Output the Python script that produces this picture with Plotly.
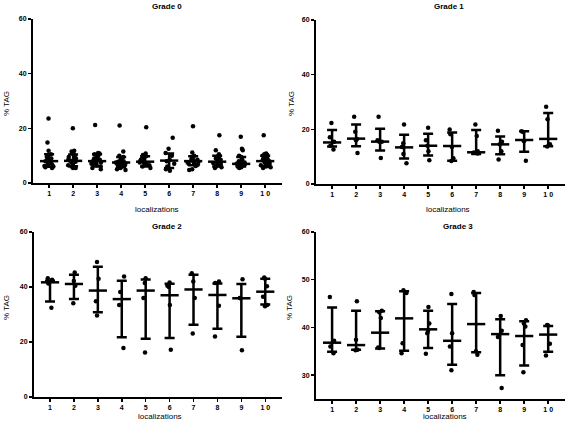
import plotly.graph_objects as go

W, H = 566, 422

categories = [1, 2, 3, 4, 5, 6, 7, 8, 9, 10]
tick_labels = ["1", "2", "3", "4", "5", "6", "7", "8", "9", "1 0"]
titles = ["Grade 0", "Grade 1", "Grade 2", "Grade 3"]

# ---- Grade 0 ----
g0_points = [
    [23.6, 14.8, 11.8, 10.5, 10, 9.5, 9, 8.6, 8.2, 8, 7.8, 7.5, 7, 6.8, 6.5, 6.2, 6, 5.8, 5.5],
    [20, 11.8, 11.5, 11, 10.5, 10, 9.5, 9, 8.5, 8.2, 8, 7.8, 7.5, 7, 6.5, 6, 5.8, 5.5, 5.5],
    [21.2, 11, 10.8, 10.5, 10, 9.5, 9, 8.5, 8, 7.8, 7.5, 7.2, 7, 6.8, 6.5, 6, 5.5, 5],
    [21, 11.5, 10, 9.5, 9, 8.5, 8, 7.8, 7.5, 7.2, 7, 6.8, 6.5, 6.2, 6, 5.5, 5, 4.8],
    [20.4, 10.8, 10.2, 9.8, 9.5, 9, 8.5, 8.2, 8, 7.8, 7.5, 7, 6.8, 6.5, 6, 5.5],
    [16.6, 12.5, 11, 10, 8.5, 8, 7, 6, 5, 4.5],
    [20.8, 11.2, 10, 9.5, 9, 8.8, 8.5, 8.2, 8, 7.8, 7.5, 7.2, 7, 6.8, 6.5, 6.2, 5, 4.8],
    [17.5, 12, 10.5, 9.8, 9.5, 9, 8.5, 8.2, 8, 7.8, 7.5, 7.2, 7, 6.8, 6.5, 6, 5.8, 5.5],
    [16.9, 12.5, 12, 10, 9.5, 8.5, 8, 7.5, 7.2, 7, 6.8, 6.5, 6.2, 6, 5.8, 5.5],
    [17.5, 10.8, 10.5, 10.2, 10, 9.5, 9, 8.5, 8.2, 8, 7.8, 7.5, 7.2, 7, 6.8, 6.5, 6.2, 6, 5.8, 5.5],
]
g0_median = [8.0, 8.1, 8.0, 7.5, 7.8, 8.2, 8.0, 7.8, 7.0, 8.0]
g0_upper = [10.5, 10.4, 10.5, 9.5, 9.8, 10.8, 9.8, 10.0, 9.5, 10.0]
g0_lower = [5.9, 6.1, 6.0, 5.8, 6.0, 5.5, 6.5, 6.0, 6.0, 6.2]

# ---- Grade 1 ----
g1_points = [
    [22.3, 17.1, 15.5, 14.0, 12.6],
    [24.6, 19.1, 16.5, 16.0, 11.3],
    [24.6, 16.0, 15.5, 15.5, 9.5],
    [21.8, 14.9, 13.5, 11.0, 7.6],
    [20.6, 16.0, 14.0, 12.0, 8.7],
    [19.9, 18.2, 13.5, 9.4, 8.4],
    [21.8, 17.6, 12.0, 11.5, 11.2],
    [19.5, 15.5, 14.5, 12.0, 9.0],
    [19.3, 19.0, 15.6, 8.5],
    [28.3, 23.7, 14.5, 13.7],
]
g1_median = [15.2, 16.6, 15.5, 13.4, 14.0, 13.9, 11.6, 14.5, 16.1, 16.5]
g1_upper = [19.8, 21.8, 20.2, 18.0, 18.4, 18.8, 19.8, 17.4, 19.3, 26.0]
g1_lower = [13.7, 13.8, 12.3, 9.3, 10.4, 8.5, 11.0, 10.9, 11.8, 13.8]

# ---- Grade 2 ----
g2_points = [
    [43.2, 42.6, 41.3, 32.5],
    [45.3, 42.2, 40.5, 34.1],
    [49.1, 43.0, 34.8, 29.6],
    [43.8, 38.2, 33.5, 17.8],
    [43.2, 41.5, 36.0, 16.2],
    [41.6, 40.5, 40.0, 33.5, 17.2],
    [45.0, 42.0, 36.0, 23.1],
    [42.0, 41.5, 33.2, 22.0],
    [42.8, 36.0, 35.9, 17.0],
    [43.5, 43.0, 40.3, 36.5, 33.5, 33.0],
]
g2_median = [41.7, 41.1, 38.7, 35.6, 38.7, 37.0, 39.1, 37.1, 35.9, 38.3]
g2_upper = [42.3, 44.5, 47.4, 42.3, 42.7, 41.2, 44.5, 41.3, 41.1, 43.0]
g2_lower = [34.7, 35.6, 30.8, 21.7, 21.2, 21.5, 26.3, 24.8, 21.9, 33.6]

# ---- Grade 3 ----
g3_points = [
    [46.4, 37.2, 36.0, 34.6],
    [45.5, 37.4, 35.3, 35.2],
    [43.5, 43.2, 42.0, 35.7, 35.8],
    [47.8, 47.2, 36.7, 34.6],
    [44.3, 40.8, 39.3, 38.8, 34.5],
    [47.0, 38.8, 36.0, 31.0],
    [47.4, 46.8, 35.0, 34.3],
    [42.4, 39.3, 38.0, 27.3],
    [41.5, 40.8, 40.2, 36.3, 30.6],
    [40.5, 40.4, 36.6, 34.1],
]
g3_median = [36.8, 36.3, 38.9, 41.9, 39.6, 37.2, 40.7, 38.6, 38.2, 38.5]
g3_upper = [44.2, 43.5, 43.4, 47.6, 43.5, 44.9, 47.2, 41.7, 41.3, 40.3]
g3_lower = [34.9, 35.3, 35.6, 35.1, 35.7, 32.2, 34.8, 30.0, 32.0, 34.9]

y_ranges = [[0, 60], [0, 60], [0, 60], [25, 60]]
y_ticks = [[0, 20, 40, 60], [0, 20, 40, 60], [0, 20, 40, 60], [30, 40, 50, 60]]

panels = [
    (g0_points, g0_median, g0_upper, g0_lower),
    (g1_points, g1_median, g1_upper, g1_lower),
    (g2_points, g2_median, g2_upper, g2_lower),
    (g3_points, g3_median, g3_upper, g3_lower),
]
jitters = [1.0, 0.45, 0.45, 0.45]

FONT = "Liberation Sans, Arial, sans-serif"

# pixel geometry of panels (left, right, top, bottom)
geom = [
    (33, 282, 19, 183),
    (316, 565, 20, 184),
    (34, 282, 232, 397),
    (316, 565, 232, 399),
]

fig = go.Figure()
layout = dict(
    width=W, height=H,
    margin=dict(l=0, r=0, t=0, b=0, autoexpand=False),
    paper_bgcolor="white", plot_bgcolor="white",
    showlegend=False,
    boxmode="overlay",
    font=dict(family=FONT, color="black", size=7),
)
annotations = []

for i, (pts, med, up, lo) in enumerate(panels):
    n = "" if i == 0 else str(i + 1)
    xa, ya = "x" + n, "y" + n
    xs, ys = [], []
    for c, vals in zip(categories, pts):
        xs += [c] * len(vals)
        ys += vals
    fig.add_trace(go.Box(
        x=xs, y=ys, xaxis=xa, yaxis=ya,
        boxpoints="all", jitter=jitters[i], pointpos=0,
        fillcolor="rgba(0,0,0,0)", line=dict(width=0, color="rgba(0,0,0,0)"),
        marker=dict(color="black", size=4.5),
        whiskerwidth=0, hoverinfo="y",
    ))
    fig.add_trace(go.Scatter(
        x=categories, y=med, xaxis=xa, yaxis=ya, mode="markers",
        marker=dict(symbol="line-ew", size=13, color="black",
                    line=dict(width=2.5, color="black")),
        error_y=dict(type="data", symmetric=False,
                     array=[u - m for u, m in zip(up, med)],
                     arrayminus=[m - l for m, l in zip(med, lo)],
                     color="black", thickness=2.5, width=5),
    ))
    L, R, T, B = geom[i]
    common = dict(showline=True, linecolor="black", linewidth=2,
                  ticks="outside", ticklen=3, tickwidth=1.5, tickcolor="black",
                  showgrid=False, zeroline=False, fixedrange=True,
                  tickfont=dict(family=FONT, size=7, color="black"))
    layout["xaxis" + n] = dict(common, domain=[L / W, R / W], range=[0.33, 10.7],
                               tickvals=categories,
                               ticktext=["<b>" + t + "</b>" for t in tick_labels],
                               anchor=ya)
    layout["yaxis" + n] = dict(common, domain=[1 - B / H, 1 - T / H],
                               range=y_ranges[i], tickvals=y_ticks[i],
                               ticktext=["<b>%d</b>" % v for v in y_ticks[i]],
                               anchor=xa)

# titles and axis titles
title_pos = [(167, 6), (449, 6), (167, 226), (458, 226)]
xlabel_pos = [(157, 209), (448, 209), (160, 416), (445, 416)]
ylabel_pos = [(6, 104), (291, 104), (6, 308), (289, 308)]
for i in range(4):
    tx, ty = title_pos[i]
    annotations.append(dict(text="<b>" + titles[i] + "</b>", x=tx / W, y=1 - ty / H,
                            xref="paper", yref="paper", showarrow=False,
                            xanchor="center", yanchor="middle",
                            font=dict(family=FONT, size=8, color="black")))
    lx, ly = xlabel_pos[i]
    annotations.append(dict(text="localizations", x=lx / W, y=1 - ly / H,
                            xref="paper", yref="paper", showarrow=False,
                            xanchor="center", yanchor="middle",
                            font=dict(family=FONT, size=8, color="black")))
    vx, vy = ylabel_pos[i]
    annotations.append(dict(text="% TAG", x=vx / W, y=1 - vy / H,
                            xref="paper", yref="paper", showarrow=False,
                            textangle=-90, xanchor="center", yanchor="middle",
                            font=dict(family=FONT, size=8, color="black")))
layout["annotations"] = annotations
fig.update_layout(**layout)

fig.write_html("out.html",
               config={"displayModeBar": False, "staticPlot": True},
               post_script="document.body.style.margin='0px';"
                           "document.body.style.overflow='hidden';")
